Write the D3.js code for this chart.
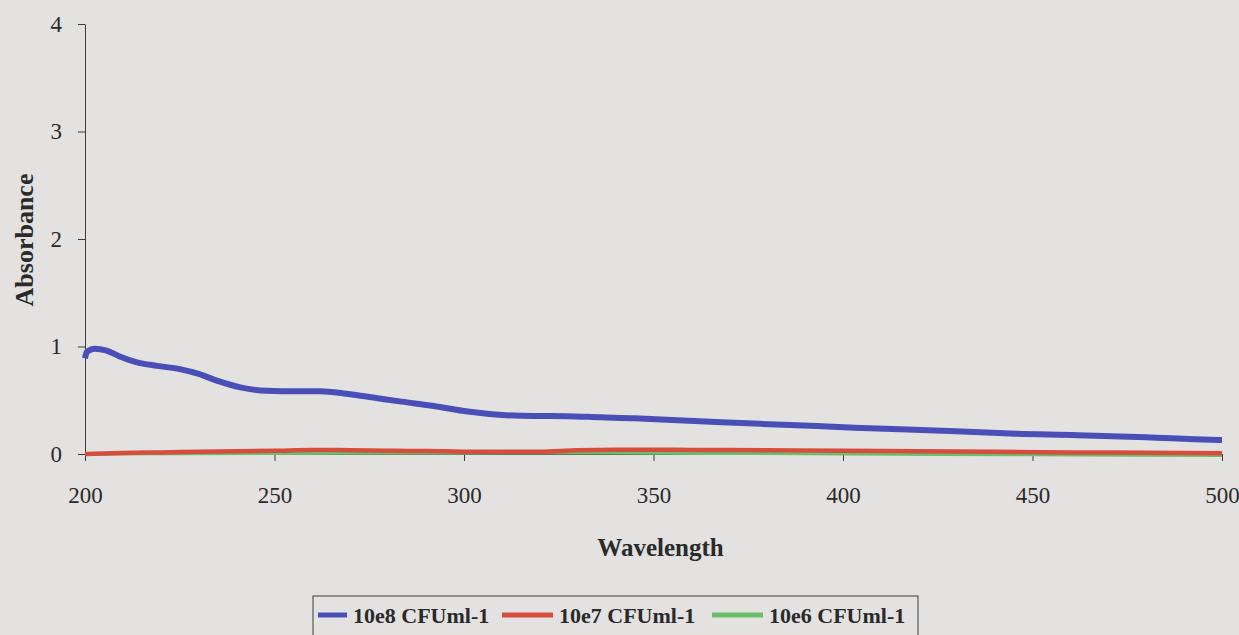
<!DOCTYPE html>
<html>
<head>
<meta charset="utf-8">
<script src="https://cdn.jsdelivr.net/npm/d3@7"></script>
<style>
  body { margin: 0; background: #e3e2e0; }
  svg { display: block; font-family: "Liberation Serif", "Times New Roman", serif; }
</style>
</head>
<body>
<svg></svg>
<script>
const width = 1239;
const height = 635;
const marginLeft = 85;
const marginRight = 17;
const marginTop = 24;
const plotBottom = 454;

// series: 10e8 CFUml-1
const wl8 = [200, 200.5, 202.5, 205.5, 209, 213.5, 219, 225, 230, 235, 241, 248, 256, 262, 269, 276, 283.5, 292, 301, 310, 318.5, 327, 336, 345, 352, 368, 386, 403, 428, 444, 462, 480, 497, 500];
const abs8 = [0.89, 0.95, 0.98, 0.965, 0.91, 0.855, 0.82, 0.79, 0.745, 0.68, 0.62, 0.588, 0.583, 0.583, 0.56, 0.525, 0.487, 0.447, 0.395, 0.363, 0.353, 0.352, 0.341, 0.332, 0.32, 0.295, 0.27, 0.245, 0.214, 0.19, 0.175, 0.155, 0.132, 0.13];
// series: 10e7 CFUml-1
const wl7 = [200, 205, 210, 220, 230, 240, 250, 260, 270, 280, 290, 300, 310, 320, 330, 340, 350, 360, 380, 400, 420, 440, 460, 480, 500];
const abs7 = [0.0, 0.005, 0.01, 0.015, 0.02, 0.025, 0.03, 0.038, 0.035, 0.03, 0.028, 0.022, 0.02, 0.022, 0.035, 0.04, 0.04, 0.038, 0.035, 0.03, 0.025, 0.02, 0.015, 0.012, 0.008];
// series: 10e6 CFUml-1
const wl6 = [200, 250, 300, 330, 350, 400, 450, 500];
const abs6 = [0.0, 0.005, 0.008, 0.01, 0.008, 0.0, -0.008, -0.015];

const xTicks = [200, 250, 300, 350, 400, 450, 500];
const yTicks = [0, 1, 2, 3, 4];
const seriesNames = ["10e8 CFUml-1", "10e7 CFUml-1", "10e6 CFUml-1"];
const seriesColors = ["#4a4fb8", "#d64c3e", "#6cbf6a"];

const svg = d3.select("svg").attr("width", width).attr("height", height);

const x = d3.scaleLinear().domain([200, 500]).range([marginLeft, width - marginRight]);
const y = d3.scaleLinear().domain([0, 4]).range([plotBottom, marginTop]);

function toPoints(wl, vals) {
    return wl.map((w, i) => [w, vals[i]]);
}

const line = d3.line()
    .x(d => x(d[0]))
    .y(d => y(d[1]))
    .curve(d3.curveMonotoneX);

// axes
const axisX = svg.append("g")
    .attr("transform", `translate(0, ${plotBottom})`)
    .call(d3.axisBottom(x).tickValues(xTicks).tickFormat(d3.format("d"))
        .tickSize(7).tickSizeOuter(0).tickPadding(26));
const axisY = svg.append("g")
    .attr("transform", `translate(${marginLeft}, 0)`)
    .call(d3.axisLeft(y).tickValues(yTicks).tickFormat(d3.format("d"))
        .tickSize(7).tickSizeOuter(0).tickPadding(16));

[axisX, axisY].forEach(g => {
    g.attr("font-family", "Liberation Serif").attr("font-size", 23);
    g.select(".domain").attr("stroke", "#3a3a3a");
    g.selectAll(".tick line").attr("stroke", "#3a3a3a");
    g.selectAll(".tick text").attr("fill", "#2a2a2a");
});

// lines, last series underneath
const series = [
    { pts: toPoints(wl6, abs6), color: seriesColors[2], w: 3 },
    { pts: toPoints(wl7, abs7), color: seriesColors[1], w: 4.5 },
    { pts: toPoints(wl8, abs8), color: seriesColors[0], w: 6 }
];
series.forEach(s => {
    svg.append("path")
        .datum(s.pts)
        .attr("d", line)
        .attr("fill", "none")
        .attr("stroke", s.color)
        .attr("stroke-width", s.w)
        .attr("stroke-linejoin", "round");
});

// axis titles
svg.append("text")
    .attr("x", (marginLeft + width - marginRight) / 2 + 7)
    .attr("y", 556)
    .attr("text-anchor", "middle")
    .attr("font-family", "Liberation Serif")
    .attr("font-size", 25)
    .attr("font-weight", "bold")
    .attr("fill", "#2a2a2a")
    .text("Wavelength");

svg.append("text")
    .attr("transform", `translate(33, 240) rotate(-90)`)
    .attr("text-anchor", "middle")
    .attr("font-family", "Liberation Serif")
    .attr("font-size", 26)
    .attr("font-weight", "bold")
    .attr("fill", "#2a2a2a")
    .text("Absorbance");

// legend
const legend = svg.append("g").attr("transform", "translate(313, 596)");
legend.append("rect")
    .attr("width", 605)
    .attr("height", 42)
    .attr("fill", "none")
    .attr("stroke", "#3a3a3a")
    .attr("stroke-width", 1);

const itemX = [5, 189, 399];
seriesNames.forEach((name, i) => {
    const g = legend.append("g").attr("transform", `translate(${itemX[i]}, 19)`);
    g.append("line")
        .attr("x1", 0).attr("x2", 29 + (i > 0 ? 22 : 0))
        .attr("stroke", seriesColors[i])
        .attr("stroke-width", 5);
    g.append("text")
        .attr("x", 35 + (i > 0 ? 22 : 0))
        .attr("y", 8)
        .attr("font-family", "Liberation Serif")
        .attr("font-size", 22)
        .attr("font-weight", "bold")
        .attr("fill", "#2a2a2a")
        .text(name);
});
</script>
</body>
</html>
